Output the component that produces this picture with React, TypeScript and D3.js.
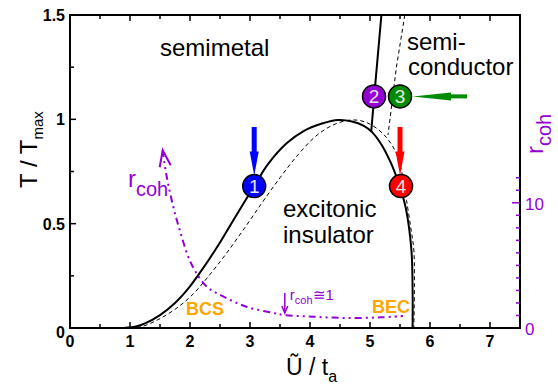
import React from "react";
import * as d3 from "d3";

// ---- data ----
const SOLID_U = [0.9, 1.1, 1.25, 1.5, 1.75, 2.0, 2.25, 2.5, 2.75, 3.07, 3.3, 3.61, 3.9, 4.2, 4.47, 4.7, 4.89, 5.03, 5.2, 5.35, 5.44, 5.52, 5.6, 5.69, 5.71, 5.71];
const SOLID_T = [0.0, 0.007, 0.022, 0.062, 0.12, 0.2, 0.3, 0.41, 0.53, 0.68, 0.785, 0.885, 0.945, 0.98, 0.997, 0.99, 0.97, 0.94, 0.875, 0.79, 0.725, 0.657, 0.57, 0.374, 0.18, 0.0];
const DASH_U = [1.0, 1.2, 1.5, 1.8, 2.06, 2.3, 2.6, 2.9, 3.2, 3.5, 3.8, 4.1, 4.4, 4.7, 4.94, 5.22, 5.44, 5.55, 5.61, 5.68, 5.73, 5.74, 5.73];
const DASH_T = [0.0, 0.007, 0.045, 0.1, 0.165, 0.245, 0.355, 0.475, 0.6, 0.72, 0.83, 0.92, 0.975, 0.997, 0.985, 0.93, 0.837, 0.72, 0.61, 0.48, 0.374, 0.2, 0.0];
const SOLID_TOP_U = [5.19, 5.07, 5.02];
const SOLID_TOP_T = [1.5, 1.11, 0.94];
const DASH_TOP_U = [5.58, 5.44, 5.3];
const DASH_TOP_T = [1.5, 1.25, 0.925];
const RCOH_U = [1.545, 1.6, 1.72, 1.83, 1.97, 2.08, 2.28, 2.56, 2.94, 3.39, 3.55, 4.05, 4.6, 5.17, 5.55];
const RCOH_R = [14.2, 12.4, 9.7, 7.8, 5.7, 4.6, 3.3, 2.5, 1.7, 1.2, 1.05, 0.9, 0.8, 0.85, 0.95];

const MARK_LABELS = ["1", "2", "3", "4"];
const MARK_U = [3.07, 5.067, 5.5, 5.517];
const MARK_T = [0.68, 1.11, 1.11, 0.68];
const MARK_COLORS = ["#0000ff", "#9400d3", "#008b00", "#ff0000"];

const X_MAJOR = [0, 1, 2, 3, 4, 5, 6, 7];
const X_MINOR = [0.5, 1.5, 2.5, 3.5, 4.5, 5.5, 6.5];
const Y_MAJOR = [0, 0.5, 1, 1.5];
const Y_LABELS = ["0", "0.5", "1", "1.5"];
const Y_MINOR = [0.25, 0.75, 1.25];
const R_MAJOR = [10];
const R_MINOR = [1, 2, 3, 4, 5, 6, 7, 8, 9, 11, 12];
const R_LABELS = [0, 10];

const PURPLE = "#9400d3";
const ORANGE = "#ffa500";
const FONT = "'Liberation Sans', Arial, Helvetica, sans-serif";

export default function App() {
  const W = 558, H = 386;
  const x = d3.scaleLinear().domain([0, 7.5]).range([70, 520]);
  const y = d3.scaleLinear().domain([0, 1.5]).range([328, 15]);
  const yr = d3.scaleLinear().domain([0, 25]).range([328, 15]);

  const line = d3.line<[number, number]>().x(d => x(d[0])).y(d => y(d[1])).curve(d3.curveCatmullRom.alpha(0.5));
  const lineLin = d3.line<[number, number]>().x(d => x(d[0])).y(d => y(d[1]));
  const lineR = d3.line<[number, number]>().x(d => x(d[0])).y(d => yr(d[1])).curve(d3.curveCatmullRom.alpha(0.5));

  const zip = (a: number[], b: number[]) => a.map((v, i) => [v, b[i]] as [number, number]);

  const solid = line(zip(SOLID_U, SOLID_T)) || "";
  const dashed = line(zip(DASH_U, DASH_T)) || "";
  const solidTop = lineLin(zip(SOLID_TOP_U, SOLID_TOP_T)) || "";
  const dashTop = lineLin(zip(DASH_TOP_U, DASH_TOP_T)) || "";
  const rcoh = lineR(zip(RCOH_U, RCOH_R)) || "";

  const x0 = x(0), x1 = x(7.5), yb = y(0), yt = y(1.5);

  const tipX = x(RCOH_U[0]), tipY = yr(RCOH_R[0]);

  const vArrow = (cx: number, ytop: number, ytip: number, color: string) => {
    const headLen = 24;
    const yh = ytip - headLen;
    return (
      <g>
        <rect x={cx - 2.5} y={ytop} width={5} height={yh - ytop + 1} fill={color} />
        <polygon points={`${cx - 4.5},${yh} ${cx + 4.5},${yh} ${cx},${ytip}`} fill={color} />
      </g>
    );
  };

  const m1x = x(MARK_U[0]), m1y = y(MARK_T[0]);
  const m4x = x(MARK_U[3]), m4y = y(MARK_T[3]);
  const m3x = x(MARK_U[2]), m3y = y(MARK_T[2]);
  const R = 11.5;

  const smallArrowX = x(3.58);

  return (
    <svg width={W} height={H} style={{ position: "absolute", left: 0, top: 0, background: "#fff" }} fontFamily={FONT}>
      <rect x={0} y={0} width={W} height={H} fill="#fff" />

      {/* curves */}
      <path d={dashed} fill="none" stroke="#000" strokeWidth={1} strokeDasharray="4 3" />
      <path d={dashTop} fill="none" stroke="#000" strokeWidth={1} strokeDasharray="4 3" />
      <path d={solid} fill="none" stroke="#000" strokeWidth={2} />
      <path d={solidTop} fill="none" stroke="#000" strokeWidth={2} />

      {/* r_coh */}
      <path d={rcoh} fill="none" stroke={PURPLE} strokeWidth={2} strokeDasharray="7 4 2 4 2 4" />
      <polyline points={`${tipX - 3},${tipY + 17} ${tipX},${tipY} ${tipX + 8},${tipY + 15}`} fill="none" stroke={PURPLE} strokeWidth={2} />
      <text x={128} y={187} fill={PURPLE} fontSize={24}>r<tspan fontSize={20} dy={9}>coh</tspan></text>

      {/* small annotation */}
      <line x1={smallArrowX} y1={293} x2={smallArrowX} y2={313} stroke={PURPLE} strokeWidth={1.5} />
      <polyline points={`${smallArrowX - 3},${306} ${smallArrowX},${313} ${smallArrowX + 3},${306}`} fill="none" stroke={PURPLE} strokeWidth={1.5} />
      <text x={smallArrowX + 5} y={300} fill={PURPLE} fontSize={15}>r<tspan fontSize={11} dy={4}>coh</tspan><tspan dy={-4}>≅1</tspan></text>

      {/* axes frame */}
      <rect x={x0} y={yt} width={x1 - x0} height={yb - yt} fill="none" stroke="#000" strokeWidth={2} />
      {X_MAJOR.map(v => (
        <g key={"xm" + v}>
          <line x1={x(v)} x2={x(v)} y1={yb} y2={yb - 6} stroke="#000" strokeWidth={1.5} />
          <line x1={x(v)} x2={x(v)} y1={yt} y2={yt + 6} stroke="#000" strokeWidth={1.5} />
          <text x={x(v)} y={347} textAnchor="middle" fontSize={16} fontWeight="bold">{v}</text>
        </g>
      ))}
      {X_MINOR.map(v => (
        <g key={"xn" + v}>
          <line x1={x(v)} x2={x(v)} y1={yb} y2={yb - 4} stroke="#000" strokeWidth={1.5} />
          <line x1={x(v)} x2={x(v)} y1={yt} y2={yt + 4} stroke="#000" strokeWidth={1.5} />
        </g>
      ))}
      {Y_MAJOR.map((v, i) => (
        <g key={"ym" + v}>
          <line x1={x0} x2={x0 + 6} y1={y(v)} y2={y(v)} stroke="#000" strokeWidth={1.5} />
          <text x={65} y={y(v) + (v === 0 ? 10 : 6)} textAnchor="end" fontSize={16} fontWeight="bold">{Y_LABELS[i]}</text>
        </g>
      ))}
      {Y_MINOR.map(v => (
        <line key={"yn" + v} x1={x0} x2={x0 + 4} y1={y(v)} y2={y(v)} stroke="#000" strokeWidth={1.5} />
      ))}
      {R_MAJOR.map(v => (
        <line key={"rm" + v} x1={x1} x2={x1 - 8} y1={yr(v)} y2={yr(v)} stroke={PURPLE} strokeWidth={1.5} />
      ))}
      {R_MINOR.map(v => (
        <line key={"rn" + v} x1={x1} x2={x1 - 4} y1={yr(v)} y2={yr(v)} stroke={PURPLE} strokeWidth={1.5} />
      ))}
      {R_LABELS.map(v => (
        <text key={"rl" + v} x={525} y={yr(v) + 7} fontSize={17} fill={PURPLE}>{v}</text>
      ))}

      {/* axis titles */}
      <text x={286} y={375} fontSize={23}>Ũ / t<tspan fontSize={16} dy={7}>a</tspan></text>
      <text transform="translate(37,188) rotate(-90)" fontSize={24}>T / T<tspan fontSize={15} dy={6}>max</tspan></text>
      <text transform="translate(543,154) rotate(-90)" fontSize={24} fill={PURPLE}>r<tspan fontSize={20} dy={8}>coh</tspan></text>

      {/* region labels */}
      <text x={160} y={56} fontSize={24}>semimetal</text>
      <text x={407} y={50} fontSize={24}>semi-</text>
      <text x={408} y={75} fontSize={24}>conductor</text>
      <text x={283} y={217} fontSize={24}>excitonic</text>
      <text x={283} y={243} fontSize={24}>insulator</text>
      <text x={186} y={315} fontSize={18} fontWeight="bold" fill={ORANGE}>BCS</text>
      <text x={372} y={313} fontSize={18} fontWeight="bold" fill={ORANGE}>BEC</text>

      {/* arrows */}
      {vArrow(m1x, 127, m1y - R + 1, MARK_COLORS[0])}
      {vArrow(m4x - 1, 127, m4y - R + 1, MARK_COLORS[3])}
      <g>
        <rect x={450} y={m3y - 2} width={17} height={4} fill={MARK_COLORS[2]} />
        <polygon points={`${451},${m3y - 4} ${451},${m3y + 4} ${m3x + R + 1},${m3y}`} fill={MARK_COLORS[2]} />
      </g>

      {/* markers */}
      {MARK_LABELS.map((lab, i) => (
        <g key={"mk" + i}>
          <circle cx={x(MARK_U[i])} cy={y(MARK_T[i])} r={R} fill={MARK_COLORS[i]} stroke="#000" strokeWidth={1.5} />
          <text x={x(MARK_U[i])} y={y(MARK_T[i]) + 6.5} textAnchor="middle" fontSize={19} fill="#e6e6e6">{lab}</text>
        </g>
      ))}
    </svg>
  );
}
